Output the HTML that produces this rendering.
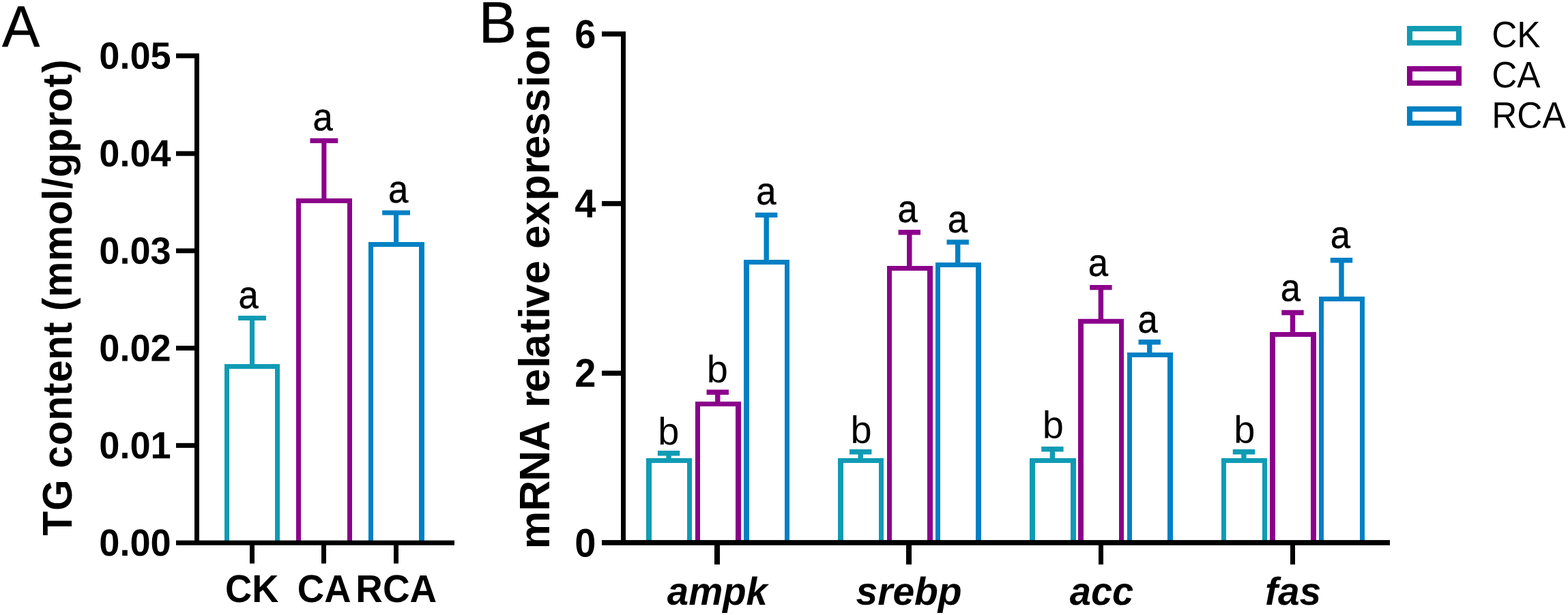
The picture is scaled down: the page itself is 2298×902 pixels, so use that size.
<!DOCTYPE html>
<html lang="en">
<head>
<meta charset="utf-8">
<title>TG content and mRNA relative expression</title>
<style>
html, body { margin: 0; padding: 0; background: #ffffff; }
body { width: 2298px; height: 902px; }
svg { display: block; }
svg text { font-family: "Liberation Sans", sans-serif; fill: #000000; font-kerning: none; }
</style>
</head>
<body>
<svg width="2298" height="902" viewBox="0 0 2298 902">
<rect x="0" y="0" width="2298" height="902" fill="#ffffff"/>
<path d="M349.10 463.00 L389.90 463.00 L389.90 470.10 L373.05 470.10 L373.05 536.00 L365.95 536.00 L365.95 470.10 L349.10 470.10 Z" fill="#109BB4"/>
<path d="M329.00 534.00 L410.00 534.00 L410.00 794.60 L403.00 794.60 L403.00 541.10 L336.00 541.10 L336.00 794.60 L329.00 794.60 Z" fill="#109BB4"/>
<path d="M454.45 202.80 L495.25 202.80 L495.25 209.90 L478.40 209.90 L478.40 293.00 L471.30 293.00 L471.30 209.90 L454.45 209.90 Z" fill="#8B008B"/>
<path d="M434.00 291.00 L516.00 291.00 L516.00 794.60 L509.00 794.60 L509.00 298.10 L441.00 298.10 L441.00 794.60 L434.00 794.60 Z" fill="#8B008B"/>
<path d="M560.20 308.40 L601.00 308.40 L601.00 315.50 L584.15 315.50 L584.15 357.00 L577.05 357.00 L577.05 315.50 L560.20 315.50 Z" fill="#0080C4"/>
<path d="M540.00 355.00 L622.00 355.00 L622.00 794.60 L614.00 794.60 L614.00 362.10 L547.00 362.10 L547.00 794.60 L540.00 794.60 Z" fill="#0080C4"/>
<rect x="285.00" y="80.30" width="7.00" height="717.35" fill="#000000"/>
<rect x="258.00" y="792.60" width="408.00" height="7.05" fill="#000000"/>
<text transform="translate(250.70 815.00) rotate(0.03) scale(1.0000 1.0250)" font-size="54.17" font-weight="bold" font-style="normal" text-anchor="end">0.00</text>
<rect x="258.00" y="649.85" width="34.00" height="7.00" fill="#000000"/>
<text transform="translate(250.70 672.25) rotate(0.03) scale(1.0000 1.0250)" font-size="54.17" font-weight="bold" font-style="normal" text-anchor="end">0.01</text>
<rect x="258.00" y="507.10" width="34.00" height="7.00" fill="#000000"/>
<text transform="translate(250.70 529.50) rotate(0.03) scale(1.0000 1.0250)" font-size="54.17" font-weight="bold" font-style="normal" text-anchor="end">0.02</text>
<rect x="258.00" y="364.35" width="34.00" height="7.00" fill="#000000"/>
<text transform="translate(250.70 386.75) rotate(0.03) scale(1.0000 1.0250)" font-size="54.17" font-weight="bold" font-style="normal" text-anchor="end">0.03</text>
<rect x="258.00" y="221.70" width="34.00" height="7.00" fill="#000000"/>
<text transform="translate(250.70 244.10) rotate(0.03) scale(1.0000 1.0250)" font-size="54.17" font-weight="bold" font-style="normal" text-anchor="end">0.04</text>
<rect x="258.00" y="78.35" width="34.00" height="7.00" fill="#000000"/>
<text transform="translate(250.70 100.75) rotate(0.03) scale(1.0000 1.0250)" font-size="54.17" font-weight="bold" font-style="normal" text-anchor="end">0.05</text>
<rect x="366.00" y="794.60" width="7.00" height="31.90" fill="#000000"/>
<text transform="translate(369.20 883.05) rotate(0.03) scale(1.0000 1.0500)" font-size="54.17" font-weight="bold" font-style="normal" text-anchor="middle">CK</text>
<rect x="471.00" y="794.60" width="7.00" height="31.90" fill="#000000"/>
<text transform="translate(475.20 883.05) rotate(0.03) scale(1.0060 1.0500)" font-size="54.17" font-weight="bold" font-style="normal" text-anchor="middle">CA</text>
<rect x="577.00" y="794.60" width="7.00" height="31.90" fill="#000000"/>
<text transform="translate(580.70 883.05) rotate(0.03) scale(1.0120 1.0500)" font-size="54.17" font-weight="bold" font-style="normal" text-anchor="middle">RCA</text>
<text transform="translate(364.10 452.05) rotate(0.03) scale(0.9400 1.0150)" font-size="56.00" font-weight="normal" font-style="normal" text-anchor="middle" stroke="#000000" stroke-width="0.5" stroke-linejoin="round">a</text>
<text transform="translate(473.20 191.35) rotate(0.03) scale(0.9400 1.0150)" font-size="56.00" font-weight="normal" font-style="normal" text-anchor="middle" stroke="#000000" stroke-width="0.5" stroke-linejoin="round">a</text>
<text transform="translate(583.60 297.05) rotate(0.03) scale(0.9400 1.0150)" font-size="56.00" font-weight="normal" font-style="normal" text-anchor="middle" stroke="#000000" stroke-width="0.5" stroke-linejoin="round">a</text>
<text transform="translate(104.60 785.00) rotate(-90) scale(1.0000 1.0350)" font-size="58.60" font-weight="bold" font-style="normal" text-anchor="start" x="-0.81 35.92 81.51 98.17 131.80 168.19 203.99 224.16 256.99 293.04 312.56 328.66 349.23 402.03 455.05 491.04 507.96 524.76 561.37 598.31 620.55 656.79 678.17">TG content (mmol/gprot)</text>
<text transform="translate(2.90 68.20) rotate(0.03) scale(1.0000 1.0300)" font-size="83.00" font-weight="normal" font-style="normal" text-anchor="start" stroke="#000000" stroke-width="0.4" stroke-linejoin="round">A</text>
<path d="M963.90 661.10 L996.30 661.10 L996.30 668.50 L983.80 668.50 L983.80 674.00 L976.40 674.00 L976.40 668.50 L963.90 668.50 Z" fill="#109BB4"/>
<path d="M947.00 672.00 L1014.00 672.00 L1014.00 794.10 L1007.00 794.10 L1007.00 679.00 L955.00 679.00 L955.00 794.10 L947.00 794.10 Z" fill="#109BB4"/>
<path d="M1035.60 571.50 L1068.00 571.50 L1068.00 578.90 L1055.50 578.90 L1055.50 591.00 L1048.10 591.00 L1048.10 578.90 L1035.60 578.90 Z" fill="#8B008B"/>
<path d="M1019.00 589.00 L1086.00 589.00 L1086.00 794.10 L1078.00 794.10 L1078.00 596.00 L1026.00 596.00 L1026.00 794.10 L1019.00 794.10 Z" fill="#8B008B"/>
<path d="M1107.00 311.70 L1139.40 311.70 L1139.40 319.10 L1126.90 319.10 L1126.90 383.10 L1119.50 383.10 L1119.50 319.10 L1107.00 319.10 Z" fill="#0080C4"/>
<path d="M1090.00 381.10 L1157.00 381.10 L1157.00 794.10 L1150.00 794.10 L1150.00 388.10 L1098.00 388.10 L1098.00 794.10 L1090.00 794.10 Z" fill="#0080C4"/>
<path d="M1245.00 659.10 L1277.40 659.10 L1277.40 666.50 L1264.90 666.50 L1264.90 674.00 L1257.50 674.00 L1257.50 666.50 L1245.00 666.50 Z" fill="#109BB4"/>
<path d="M1228.00 672.00 L1295.00 672.00 L1295.00 794.10 L1288.00 794.10 L1288.00 679.00 L1236.00 679.00 L1236.00 794.10 L1228.00 794.10 Z" fill="#109BB4"/>
<path d="M1316.60 337.00 L1349.00 337.00 L1349.00 344.40 L1336.50 344.40 L1336.50 392.00 L1329.10 392.00 L1329.10 344.40 L1316.60 344.40 Z" fill="#8B008B"/>
<path d="M1300.00 390.00 L1367.00 390.00 L1367.00 794.10 L1359.00 794.10 L1359.00 397.00 L1307.00 397.00 L1307.00 794.10 L1300.00 794.10 Z" fill="#8B008B"/>
<path d="M1387.50 351.40 L1419.90 351.40 L1419.90 358.80 L1407.40 358.80 L1407.40 387.00 L1400.00 387.00 L1400.00 358.80 L1387.50 358.80 Z" fill="#0080C4"/>
<path d="M1371.00 385.00 L1438.00 385.00 L1438.00 794.10 L1430.00 794.10 L1430.00 392.00 L1378.00 392.00 L1378.00 794.10 L1371.00 794.10 Z" fill="#0080C4"/>
<path d="M1526.20 655.00 L1558.60 655.00 L1558.60 662.40 L1546.10 662.40 L1546.10 674.00 L1538.70 674.00 L1538.70 662.40 L1526.20 662.40 Z" fill="#109BB4"/>
<path d="M1509.00 672.00 L1577.00 672.00 L1577.00 794.10 L1569.00 794.10 L1569.00 679.00 L1517.00 679.00 L1517.00 794.10 L1509.00 794.10 Z" fill="#109BB4"/>
<path d="M1597.20 417.90 L1629.60 417.90 L1629.60 425.30 L1617.10 425.30 L1617.10 469.80 L1609.70 469.80 L1609.70 425.30 L1597.20 425.30 Z" fill="#8B008B"/>
<path d="M1580.00 467.80 L1647.00 467.80 L1647.00 794.10 L1640.00 794.10 L1640.00 474.80 L1588.00 474.80 L1588.00 794.10 L1580.00 794.10 Z" fill="#8B008B"/>
<path d="M1668.55 498.00 L1700.95 498.00 L1700.95 505.40 L1688.45 505.40 L1688.45 519.00 L1681.05 519.00 L1681.05 505.40 L1668.55 505.40 Z" fill="#0080C4"/>
<path d="M1652.00 517.00 L1719.00 517.00 L1719.00 794.10 L1711.00 794.10 L1711.00 524.00 L1659.00 524.00 L1659.00 794.10 L1652.00 794.10 Z" fill="#0080C4"/>
<path d="M1806.75 659.10 L1839.15 659.10 L1839.15 666.50 L1826.65 666.50 L1826.65 674.00 L1819.25 674.00 L1819.25 666.50 L1806.75 666.50 Z" fill="#109BB4"/>
<path d="M1790.00 672.00 L1857.00 672.00 L1857.00 794.10 L1850.00 794.10 L1850.00 679.00 L1797.00 679.00 L1797.00 794.10 L1790.00 794.10 Z" fill="#109BB4"/>
<path d="M1878.25 454.80 L1910.65 454.80 L1910.65 462.20 L1898.15 462.20 L1898.15 489.00 L1890.75 489.00 L1890.75 462.20 L1878.25 462.20 Z" fill="#8B008B"/>
<path d="M1861.00 487.00 L1929.00 487.00 L1929.00 794.10 L1921.00 794.10 L1921.00 494.00 L1869.00 494.00 L1869.00 794.10 L1861.00 794.10 Z" fill="#8B008B"/>
<path d="M1949.80 378.00 L1982.20 378.00 L1982.20 385.40 L1969.70 385.40 L1969.70 437.00 L1962.30 437.00 L1962.30 385.40 L1949.80 385.40 Z" fill="#0080C4"/>
<path d="M1933.00 435.00 L2000.00 435.00 L2000.00 794.10 L1993.00 794.10 L1993.00 442.00 L1940.00 442.00 L1940.00 794.10 L1933.00 794.10 Z" fill="#0080C4"/>
<rect x="910.00" y="48.10" width="7.00" height="749.60" fill="#000000"/>
<rect x="882.00" y="792.10" width="1155.00" height="7.60" fill="#000000"/>
<rect x="882.00" y="543.65" width="35.00" height="7.40" fill="#000000"/>
<rect x="882.00" y="294.90" width="35.00" height="7.40" fill="#000000"/>
<rect x="882.00" y="46.15" width="35.00" height="7.40" fill="#000000"/>
<text transform="translate(873.40 816.50) rotate(0.03) scale(1.0000 1.0500)" font-size="56.00" font-weight="bold" font-style="normal" text-anchor="end">0</text>
<text transform="translate(873.40 567.25) rotate(0.03) scale(1.0000 1.0500)" font-size="56.00" font-weight="bold" font-style="normal" text-anchor="end">2</text>
<text transform="translate(873.40 318.85) rotate(0.03) scale(1.0000 1.0500)" font-size="56.00" font-weight="bold" font-style="normal" text-anchor="end">4</text>
<text transform="translate(873.40 70.35) rotate(0.03) scale(1.0000 1.0500)" font-size="56.00" font-weight="bold" font-style="normal" text-anchor="end">6</text>
<rect x="1047.00" y="794.10" width="8.00" height="33.80" fill="#000000"/>
<text transform="translate(1051.40 886.90) rotate(0.03) scale(1.0000 1.0200)" font-size="56.30" font-weight="bold" font-style="italic" text-anchor="middle">ampk</text>
<rect x="1328.00" y="794.10" width="8.00" height="33.80" fill="#000000"/>
<text transform="translate(1332.10 886.90) rotate(0.03) scale(1.0120 1.0200)" font-size="56.30" font-weight="bold" font-style="italic" text-anchor="middle">srebp</text>
<rect x="1610.00" y="794.10" width="7.00" height="33.80" fill="#000000"/>
<text transform="translate(1614.50 886.90) rotate(0.03) scale(0.9950 1.0200)" font-size="56.30" font-weight="bold" font-style="italic" text-anchor="middle">acc</text>
<rect x="1891.00" y="794.10" width="7.00" height="33.80" fill="#000000"/>
<text transform="translate(1895.10 886.90) rotate(0.03) scale(1.0100 1.0200)" font-size="56.30" font-weight="bold" font-style="italic" text-anchor="middle">fas</text>
<text transform="translate(979.90 652.10) rotate(0.03) scale(1.0000 1.0050)" font-size="56.00" font-weight="normal" font-style="normal" text-anchor="middle">b</text>
<text transform="translate(1051.40 560.70) rotate(0.03) scale(1.0000 1.0050)" font-size="56.00" font-weight="normal" font-style="normal" text-anchor="middle">b</text>
<text transform="translate(1122.80 299.85) rotate(0.03) scale(0.9400 1.0150)" font-size="56.00" font-weight="normal" font-style="normal" text-anchor="middle" stroke="#000000" stroke-width="0.5" stroke-linejoin="round">a</text>
<text transform="translate(1262.00 649.70) rotate(0.03) scale(1.0000 1.0050)" font-size="56.00" font-weight="normal" font-style="normal" text-anchor="middle">b</text>
<text transform="translate(1330.10 325.85) rotate(0.03) scale(0.9400 1.0150)" font-size="56.00" font-weight="normal" font-style="normal" text-anchor="middle" stroke="#000000" stroke-width="0.5" stroke-linejoin="round">a</text>
<text transform="translate(1403.50 340.85) rotate(0.03) scale(0.9400 1.0150)" font-size="56.00" font-weight="normal" font-style="normal" text-anchor="middle" stroke="#000000" stroke-width="0.5" stroke-linejoin="round">a</text>
<text transform="translate(1543.40 642.50) rotate(0.03) scale(1.0000 1.0050)" font-size="56.00" font-weight="normal" font-style="normal" text-anchor="middle">b</text>
<text transform="translate(1609.40 404.85) rotate(0.03) scale(0.9400 1.0150)" font-size="56.00" font-weight="normal" font-style="normal" text-anchor="middle" stroke="#000000" stroke-width="0.5" stroke-linejoin="round">a</text>
<text transform="translate(1682.20 487.75) rotate(0.03) scale(0.9400 1.0150)" font-size="56.00" font-weight="normal" font-style="normal" text-anchor="middle" stroke="#000000" stroke-width="0.5" stroke-linejoin="round">a</text>
<text transform="translate(1823.80 649.60) rotate(0.03) scale(1.0000 1.0050)" font-size="56.00" font-weight="normal" font-style="normal" text-anchor="middle">b</text>
<text transform="translate(1891.30 441.55) rotate(0.03) scale(0.9400 1.0150)" font-size="56.00" font-weight="normal" font-style="normal" text-anchor="middle" stroke="#000000" stroke-width="0.5" stroke-linejoin="round">a</text>
<text transform="translate(1964.40 363.85) rotate(0.03) scale(0.9400 1.0150)" font-size="56.00" font-weight="normal" font-style="normal" text-anchor="middle" stroke="#000000" stroke-width="0.5" stroke-linejoin="round">a</text>
<text transform="translate(805.30 806.00) rotate(-90) scale(1.0000 1.0220)" font-size="62.50" font-weight="bold" font-style="normal" text-anchor="start" x="0.84 56.18 99.95 143.88 189.01 207.95 230.52 266.30 280.91 317.69 338.20 354.29 389.37 424.13 440.97 475.84 511.46 550.40 572.87 606.45 641.35 677.90 694.91 732.29">mRNA relative expression</text>
<text transform="translate(701.70 62.35) rotate(0.03) scale(1.0000 1.0300)" font-size="83.00" font-weight="normal" font-style="normal" text-anchor="start" stroke="#000000" stroke-width="0.5" stroke-linejoin="round">B</text>
<path d="M2062.00 38.10 L2142.00 38.10 L2142.00 66.80 L2062.00 66.80 Z M2070.00 45.90 L2070.00 59.05 L2134.00 59.05 L2134.00 45.90 Z" fill="#109BB4" fill-rule="evenodd"/>
<text transform="translate(2186.20 69.30) rotate(0.03) scale(0.9850 1.0360)" font-size="52.20" font-weight="normal" font-style="normal" text-anchor="start">CK</text>
<path d="M2062.00 97.00 L2142.00 97.00 L2142.00 125.70 L2062.00 125.70 Z M2070.00 104.80 L2070.00 117.95 L2134.00 117.95 L2134.00 104.80 Z" fill="#8B008B" fill-rule="evenodd"/>
<text transform="translate(2186.20 128.35) rotate(0.03) scale(0.9850 1.0360)" font-size="52.20" font-weight="normal" font-style="normal" text-anchor="start">CA</text>
<path d="M2062.00 155.90 L2142.00 155.90 L2142.00 184.60 L2062.00 184.60 Z M2070.00 163.70 L2070.00 176.85 L2134.00 176.85 L2134.00 163.70 Z" fill="#0080C4" fill-rule="evenodd"/>
<text transform="translate(2186.20 187.40) rotate(0.03) scale(0.9850 1.0360)" font-size="52.20" font-weight="normal" font-style="normal" text-anchor="start">RCA</text>
</svg>
</body>
</html>
